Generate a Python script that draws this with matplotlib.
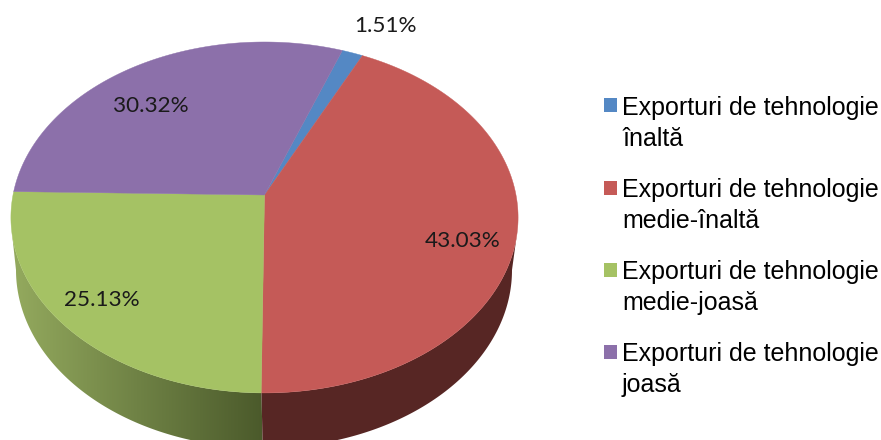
import numpy as np
import matplotlib
matplotlib.use("Agg")
import matplotlib.pyplot as plt
from matplotlib.colors import LinearSegmentedColormap
from matplotlib.patches import Polygon, Rectangle

# values from the chart, in drawing order (clockwise)
names = ["Exporturi de tehnologie\nînaltă", "Exporturi de tehnologie\nmedie-înaltă",
         "Exporturi de tehnologie\nmedie-joasă", "Exporturi de tehnologie\njoasă"]
shares = [1.51, 43.03, 25.13, 30.32]
pct_labels = ["1.51%", "43.03%", "25.13%", "30.32%"]
colors = ["#5488c4", "#c55a57", "#a5c264", "#8c70aa"]

# pixel layout of the picture
W, H = 881, 440
cx, cy = 264.5, 195
start = 20.3  # degrees clockwise from the top
label_pos = [(385, 26), (463, 241), (102, 300), (151, 106)]
legend_y = [105.5, 188, 270, 352]

fig = plt.figure(figsize=(W / 100, H / 100), dpi=100)
ax = fig.add_axes([0, 0, 1, 1])


# tilted pie top: circle seen in perspective, so the centre sits above the ellipse centre
def rim(deg):
    t = np.radians(deg)
    k = 0.128
    d = 1 + k * np.cos(t)
    return cx + 251.5 * np.sin(t) / d, cy - 172.6 * np.cos(t) / d


# lower edge of the pie side
def low(deg):
    t = np.radians(deg)
    return 264 + 248 * np.sin(t), 270 - 178 * np.cos(t)


# side of the pie, drawn first
red_top = np.linspace(102, 180.6, 120)
red_low = np.linspace(90, 180.3, 120)
rx, ry = rim(red_top)
lx, ly = low(red_low)
ax.fill(np.r_[rx, lx[::-1]], np.r_[ry, ly[::-1]], color="#572624", lw=0)

green_top = np.linspace(180.6, 257, 120)
green_low = np.linspace(180.3, 270, 120)
rx, ry = rim(green_top)
lx, ly = low(green_low)
side = Polygon(np.c_[np.r_[rx, lx[::-1]], np.r_[ry, ly[::-1]]], closed=True, transform=ax.transData, fc="none", lw=0)
ax.add_patch(side)
side_cmap = LinearSegmentedColormap.from_list("side", ["#94aa5e", "#6f8245", "#4b5a2b"])
img = ax.imshow(np.linspace(0, 1, 256)[None, :], cmap=side_cmap, extent=[12, 263, 445, 190], aspect="auto")
img.set_clip_path(side)

# pie top
edges = start + np.r_[0, np.cumsum(shares)] / sum(shares) * 360
for i in range(len(shares)):
    px, py = rim(np.linspace(edges[i], edges[i + 1], 200))
    ax.fill(np.r_[cx, px], np.r_[cy, py], color=colors[i], lw=0.3, ec=colors[i])
    ax.text(label_pos[i][0], label_pos[i][1], pct_labels[i], ha="center", va="center",
            fontsize=16.2, family="Lato", color="#1a1a1a")

# legend
for i in range(len(names)):
    ax.add_patch(Rectangle((603.5, legend_y[i] - 7), 13.5, 14, fc=colors[i], ec="none"))
    ax.text(622, legend_y[i] - 10, names[i], ha="left", va="top", fontsize=18,
            family="Liberation Sans", color="black", linespacing=1.37)

ax.set_xlim(0, W)
ax.set_ylim(H, 0)
ax.axis("off")

fig.savefig("out.png", dpi=100)
